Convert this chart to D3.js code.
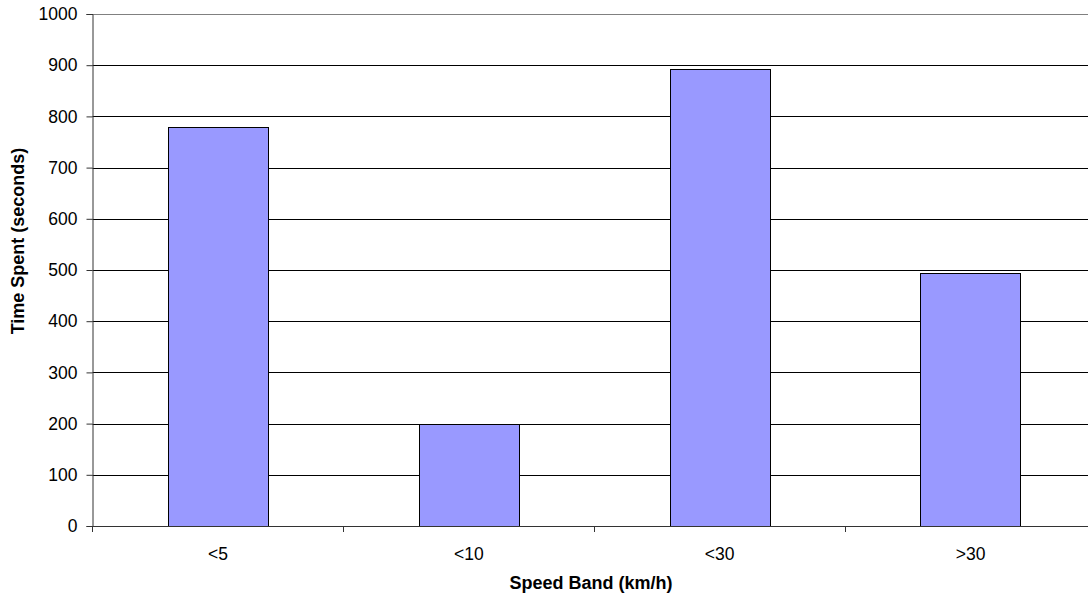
<!DOCTYPE html>
<html>
<head>
<meta charset="utf-8">
<script src="https://cdn.jsdelivr.net/npm/d3@7"></script>
<style>
  html, body { margin: 0; padding: 0; background: #fff; }
  svg { display: block; }
  text { font-family: "Liberation Sans", Arial, sans-serif; fill: #000; }
</style>
</head>
<body>
<svg id="chart" width="1088" height="594"></svg>
<script>
const categories = ["<5", "<10", "<30", ">30"];
const timeSpent = [779, 200, 892, 495];
const yTicks = [0, 100, 200, 300, 400, 500, 600, 700, 800, 900, 1000];
const xTitle = "Speed Band (km/h)";
const yTitle = "Time Spent (seconds)";

(function () {
const svg = d3.select("#chart");
const pLeft = 92.5, pRight = 1096, pTop = 14, pBottom = 526;

const x = d3.scaleBand().domain(categories).range([pLeft, pRight])
  .paddingInner(0.6).paddingOuter(0.3);
const y = d3.scaleLinear().domain([0, 1000]).range([pBottom, pTop]);

// gridlines
svg.append("g").selectAll("line").data(yTicks.filter(d => d > 0)).join("line")
  .attr("x1", pLeft).attr("x2", pRight)
  .attr("y1", d => Math.round(y(d)) + 0.5).attr("y2", d => Math.round(y(d)) + 0.5)
  .attr("stroke", d => d === 1000 ? "#808080" : "#000").attr("stroke-width", 1);

// bars
svg.append("g").selectAll("rect").data(categories).join("rect")
  .attr("x", d => Math.round(x(d)) + 0.5)
  .attr("y", (d, i) => Math.round(y(timeSpent[i])) + 0.5)
  .attr("width", Math.round(x.bandwidth()))
  .attr("height", (d, i) => Math.round(y(0)) - Math.round(y(timeSpent[i])))
  .attr("fill", "#9999FF").attr("stroke", "#000").attr("stroke-width", 1);

// y axis
const yAxis = d3.axisLeft(y).tickValues(yTicks).tickSize(6).tickPadding(9)
  .tickFormat(d3.format("d"));
const gy = svg.append("g").attr("transform", `translate(${pLeft},0)`).call(yAxis);
gy.select(".domain").attr("stroke", "#333");
gy.selectAll(".tick line").attr("stroke", "#333");
gy.selectAll(".tick text").attr("font-size", "17.5px")
  .attr("font-family", "Liberation Sans, Arial, sans-serif").attr("fill", "#000");

// x axis: ticks at band boundaries
const boundaries = categories.map(c => x(c) - x.step() * 0.3).concat([pRight]);
const gx = svg.append("g");
gx.append("line").attr("x1", pLeft).attr("x2", pRight)
  .attr("y1", pBottom + 0.5).attr("y2", pBottom + 0.5).attr("stroke", "#333");
gx.selectAll("line.tk").data(boundaries).join("line").attr("class", "tk")
  .attr("x1", d => Math.round(d) + 0.5).attr("x2", d => Math.round(d) + 0.5)
  .attr("y1", pBottom).attr("y2", pBottom + 6).attr("stroke", "#333");
gx.selectAll("text").data(categories).join("text")
  .attr("x", d => x(d) + x.bandwidth() / 2).attr("y", 560)
  .attr("text-anchor", "middle").attr("font-size", "17.5px").text(d => d);

// titles
svg.append("text").attr("x", 591).attr("y", 589)
  .attr("text-anchor", "middle").attr("font-size", "18px").attr("font-weight", "bold")
  .text(xTitle);
svg.append("text").attr("transform", "translate(24,241) rotate(-90)")
  .attr("text-anchor", "middle").attr("font-size", "18px").attr("font-weight", "bold")
  .text(yTitle);
})();
</script>
</body>
</html>
